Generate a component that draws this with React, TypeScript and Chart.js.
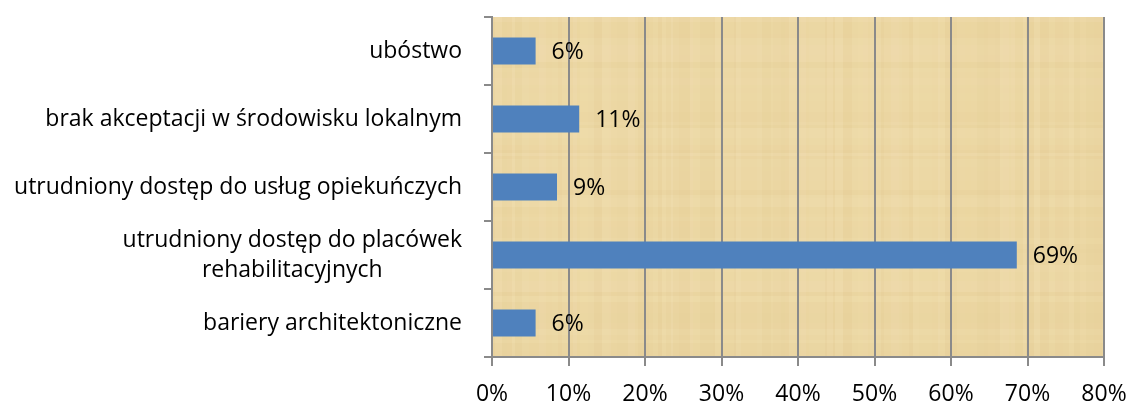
import React, { useEffect, useRef } from "react";
import { Chart, registerables } from "chart.js";

Chart.register(...registerables);

const categories: string[][] = [
  ["ubóstwo"],
  ["brak akceptacji w środowisku lokalnym"],
  ["utrudniony dostęp do usług opiekuńczych"],
  ["utrudniony dostęp do placówek", "rehabilitacyjnych"],
  ["bariery architektoniczne"],
];
const values: number[] = [5.7, 11.4, 8.5, 68.6, 5.7];
const xTicks: number[] = [0, 10, 20, 30, 40, 50, 60, 70, 80];

const FONT = "'Open Sans', sans-serif";
const FSIZE = 23;
const LINE_H = 30;
const AXIS_COLOR = "#8a8a8a";

// deterministic decorative hash for the papyrus texture (not data)
const hash = (n: number) => {
  const s = Math.sin(n * 12.9898 + 78.233) * 43758.5453;
  return s - Math.floor(s);
};

const bgPlugin = {
  id: "papyrusBg",
  beforeDraw(chart: any) {
    const { ctx, chartArea } = chart;
    const { left, top, right, bottom } = chartArea;
    const w = right - left;
    const h = bottom - top;
    ctx.save();
    ctx.beginPath();
    ctx.rect(left, top, w, h);
    ctx.clip();
    ctx.fillStyle = "#ECD7A3";
    ctx.fillRect(left, top, w, h);
    let x = left;
    let k = 0;
    while (x < right) {
      const sw = 2 + Math.floor(hash(k) * 7);
      const r = hash(k + 500);
      ctx.fillStyle = r > 0.5 ? `rgba(255,246,220,${(r - 0.5) * 0.18})` : `rgba(205,165,95,${(0.5 - r) * 0.12})`;
      ctx.fillRect(x, top, sw, h);
      x += sw;
      k++;
    }
    let y = top;
    k = 1000;
    while (y < bottom) {
      const sh = 3 + Math.floor(hash(k) * 10);
      const r = hash(k + 500);
      ctx.fillStyle = r > 0.5 ? `rgba(255,246,220,${(r - 0.5) * 0.16})` : `rgba(205,165,95,${(0.5 - r) * 0.1})`;
      ctx.fillRect(left, y, w, sh);
      y += sh;
      k++;
    }
    ctx.restore();
  },
};

const labelPlugin = {
  id: "customLabels",
  afterDraw(chart: any) {
    const { ctx } = chart;
    const yScale = chart.scales.y;
    ctx.save();
    ctx.font = `${FSIZE}px ${FONT}`;
    ctx.fillStyle = "#000";
    ctx.textBaseline = "middle";
    ctx.textAlign = "center";
    const rightX = 462;
    categories.forEach((lines, i) => {
      const cy = yScale.getPixelForValue(i);
      const w = Math.max(...lines.map((l) => ctx.measureText(l).width));
      const cx = rightX - w / 2;
      const startY = cy - ((lines.length - 1) * LINE_H) / 2;
      lines.forEach((l, j) => ctx.fillText(l, cx, startY + j * LINE_H));
    });
    const meta = chart.getDatasetMeta(0);
    ctx.textAlign = "left";
    meta.data.forEach((bar: any, i: number) => {
      ctx.fillText(Math.round(values[i]) + "%", bar.x + 16, bar.y + 1);
    });
    ctx.restore();
  },
};

export default function App() {
  const ref = useRef<HTMLCanvasElement | null>(null);
  useEffect(() => {
    document.body.style.margin = "0";
    const chart = new Chart(ref.current as HTMLCanvasElement, {
      type: "bar",
      data: {
        labels: categories.map((c) => c.join(" ")),
        datasets: [
          {
            data: values,
            backgroundColor: "#4F81BD",
            borderWidth: 0,
            categoryPercentage: 1,
            barPercentage: 0.4,
          },
        ],
      },
      options: {
        indexAxis: "y",
        animation: false,
        responsive: false,
        layout: { padding: { top: 17, right: 26, left: 0, bottom: 0 } },
        plugins: { legend: { display: false }, tooltip: { enabled: false } },
        scales: {
          y: {
            type: "category",
            offset: true,
            grid: {
              offset: true,
              drawOnChartArea: false,
              drawTicks: true,
              tickLength: 8,
              color: AXIS_COLOR,
              lineWidth: 2,
            },
            border: { display: true, color: AXIS_COLOR, width: 2 },
            ticks: { color: "rgba(0,0,0,0)", font: { family: FONT, size: FSIZE } },
            afterFit(scale: any) {
              scale.width = 492;
              scale.paddingTop = 0;
              scale.paddingBottom = 0;
            },
          },
          x: {
            type: "linear",
            min: xTicks[0],
            max: xTicks[xTicks.length - 1],
            afterBuildTicks(scale: any) {
              scale.ticks = xTicks.map((v) => ({ value: v }));
            },
            grid: {
              color: AXIS_COLOR,
              lineWidth: 2,
              drawTicks: true,
              tickLength: 9,
            },
            border: { display: true, color: AXIS_COLOR, width: 2 },
            ticks: {
              color: "#000",
              font: { family: FONT, size: FSIZE },
              padding: 15,
              callback: (v: any) => v + "%",
            },
            afterFit(scale: any) {
              scale.height = 45;
              scale.paddingLeft = 0;
              scale.paddingRight = 0;
            },
          },
        },
      },
      plugins: [bgPlugin, labelPlugin],
    });
    return () => chart.destroy();
  }, []);
  return <canvas ref={ref} width={1130} height={402} />;
}
